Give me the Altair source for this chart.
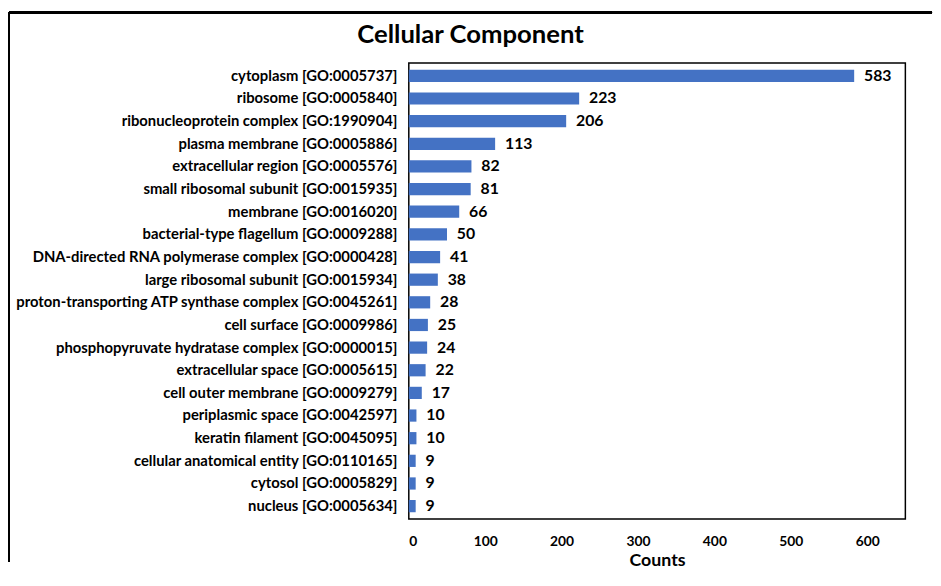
import altair as alt
import pandas as pd

categories = [
    "cytoplasm [GO:0005737]",
    "ribosome [GO:0005840]",
    "ribonucleoprotein complex [GO:1990904]",
    "plasma membrane [GO:0005886]",
    "extracellular region [GO:0005576]",
    "small ribosomal subunit [GO:0015935]",
    "membrane [GO:0016020]",
    "bacterial-type flagellum [GO:0009288]",
    "DNA-directed RNA polymerase complex [GO:0000428]",
    "large ribosomal subunit [GO:0015934]",
    "proton-transporting ATP synthase complex [GO:0045261]",
    "cell surface [GO:0009986]",
    "phosphopyruvate hydratase complex [GO:0000015]",
    "extracellular space [GO:0005615]",
    "cell outer membrane [GO:0009279]",
    "periplasmic space [GO:0042597]",
    "keratin filament [GO:0045095]",
    "cellular anatomical entity [GO:0110165]",
    "cytosol [GO:0005829]",
    "nucleus [GO:0005634]",
]
counts = [583, 223, 206, 113, 82, 81, 66, 50, 41, 38, 28, 25, 24, 22, 17, 10, 10, 9, 9, 9]
x_ticks = [0, 100, 200, 300, 400, 500, 600]

df = pd.DataFrame({"term": categories, "count": counts})
FONT = "Lato"

x_enc = alt.X(
    "count:Q",
    scale=alt.Scale(domain=[0, 650], nice=False),
    axis=alt.Axis(
        values=x_ticks, title="Counts", grid=False, ticks=False, domain=False,
        labelFont=FONT, labelFontSize=14, labelFontWeight="bold", labelColor="black",
        labelPadding=16, titleFont=FONT, titleFontSize=18, titleFontWeight="bold",
        titleColor="black", titlePadding=3,
    ),
)
y_enc = alt.Y(
    "term:N", sort=categories,
    scale=alt.Scale(paddingInner=0.46, paddingOuter=0.3),
    axis=alt.Axis(
        title=None, ticks=False, domain=False, grid=False,
        labelFont=FONT, labelFontSize=15, labelFontWeight="bold", labelColor="black",
        labelPadding=12, labelLimit=600,
    ),
)

base = alt.Chart(df)
bars = base.mark_bar(color="#4472C4").encode(x=x_enc, y=y_enc)
labels = base.mark_text(
    align="left", dx=10, font=FONT, fontSize=16, fontWeight="bold", color="black"
).encode(x="count:Q", y=alt.Y("term:N", sort=categories), text="count:Q")

frame_top = alt.Chart(df).mark_rule(color="black", strokeWidth=2).encode(
    x=alt.value(-405), x2=alt.value(530), y=alt.value(-51)
)
frame_left = alt.Chart(df).mark_rule(color="black", strokeWidth=2).encode(
    x=alt.value(-405), y=alt.value(-51), y2=alt.value(505)
)

chart = (
    alt.layer(frame_top, frame_left, bars, labels)
    .properties(
        width=503, height=462,
        view=alt.ViewBackground(stroke="black", strokeWidth=1.5, fill="white"),
        title=alt.TitleParams(
            "Cellular Component", font=FONT, fontSize=26, fontWeight="bold",
            color="black", anchor="middle", frame="bounds", offset=-37,
        ),
        padding=0,
    )
    .configure(background="white")
)

chart.save("out.html", embed_options={"renderer": "svg", "actions": False})
